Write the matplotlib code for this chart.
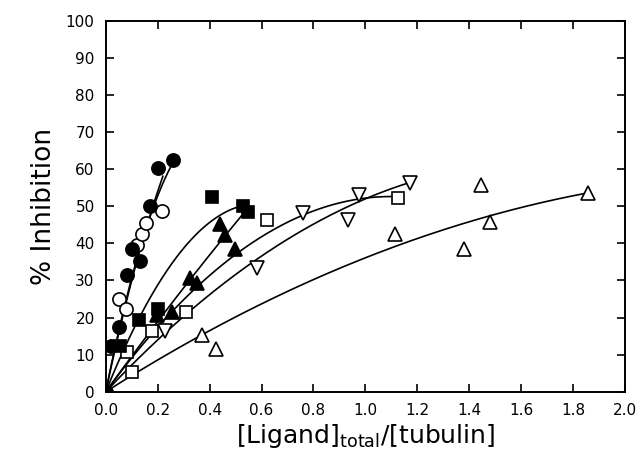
import numpy as np
import matplotlib
matplotlib.use("Agg")
from matplotlib import pyplot as plt

# data points: [ligand]/[tubulin] vs % inhibition
filled_circle_x = [0.0, 0.02, 0.05, 0.08, 0.10, 0.13, 0.172, 0.202, 0.26]
filled_circle_y = [0.0, 12.3, 17.5, 31.5, 38.6, 35.2, 50.0, 60.4, 62.4]

open_circle_x = [0.05, 0.078, 0.12, 0.138, 0.155, 0.217]
open_circle_y = [25.0, 22.3, 39.5, 42.5, 45.4, 48.6]

filled_square_x = [0.055, 0.127, 0.20, 0.41, 0.529, 0.549]
filled_square_y = [12.3, 19.4, 22.4, 52.4, 50.2, 48.5]

filled_tri_x = [0.198, 0.256, 0.323, 0.353, 0.439, 0.459, 0.498]
filled_tri_y = [20.6, 21.6, 30.7, 29.4, 45.3, 42.2, 38.5]

open_square_x = [0.082, 0.10, 0.179, 0.31, 0.623, 1.127]
open_square_y = [10.6, 5.2, 16.5, 21.4, 46.3, 52.2]

open_invtri_x = [0.23, 0.584, 0.758, 0.934, 0.977, 1.17]
open_invtri_y = [16.3, 33.4, 48.2, 46.3, 53.0, 56.2]

open_tri_x = [0.369, 0.423, 1.116, 1.378, 1.447, 1.481, 1.858]
open_tri_y = [15.4, 11.4, 42.4, 38.6, 55.6, 45.7, 53.6]

# fitted curves y = a*x + b*x^2, drawn from 0 to xmax (estimated from the figure)
fits = {
    "filled_circle": (350.0, -430.0, 0.26),
    "open_circle": (330.0, -300.0, 0.22),
    "filled_square": (173.7, -149.0, 0.52),
    "filled_tri": (97.0, -12.0, 0.54),
    "open_square": (95.8, -43.6, 1.13),
    "open_invtri": (74.4, -22.4, 1.17),
    "open_tri": (44.56, -8.45, 1.858),
}

fig = plt.figure(figsize=(6.41, 4.72), dpi=100)
ax = fig.add_axes([0.165, 0.170, 0.81, 0.786])

for name, (a, b, xmax) in fits.items():
    xs = np.linspace(0, xmax, 200)
    ax.plot(xs, a * xs + b * xs ** 2, color="black", lw=1.2, zorder=2)

mk = dict(linestyle="none", markeredgecolor="black", markeredgewidth=1.2, zorder=3)
ax.plot(open_square_x, open_square_y, marker="s", markersize=8, markerfacecolor="white", **mk)
ax.plot(open_invtri_x, open_invtri_y, marker="v", markersize=10, markerfacecolor="white", **mk)
ax.plot(open_tri_x, open_tri_y, marker="^", markersize=10, markerfacecolor="white", **mk)
ax.plot(open_circle_x, open_circle_y, marker="o", markersize=9.5, markerfacecolor="white", **mk)
ax.plot(filled_tri_x, filled_tri_y, marker="^", markersize=9.5, markerfacecolor="black", **mk)
ax.plot(filled_square_x, filled_square_y, marker="s", markersize=8, markerfacecolor="black", **mk)
ax.plot(filled_circle_x, filled_circle_y, marker="o", markersize=9.5, markerfacecolor="black", **mk)

ax.set_xlim(0, 2.0)
ax.set_ylim(0, 100)
ax.set_xticks(np.arange(0, 2.01, 0.2))
ax.set_yticks(np.arange(0, 101, 10))
ax.set_xticklabels([f"{v:.1f}" for v in np.arange(0, 2.01, 0.2)])
ax.tick_params(direction="in", length=6, width=1.2, top=True, right=True,
               labelsize=11, pad=5)
ax.tick_params(axis="x", pad=8)
ax.tick_params(axis="y", pad=8)
for s in ax.spines.values():
    s.set_linewidth(1.4)

ax.set_ylabel("% Inhibition", fontsize=19, labelpad=6)
ax.set_xlabel(r"[Ligand]$_{\mathrm{total}}$/[tubulin]", fontsize=18, labelpad=3)

fig.savefig("out.png", dpi=100)
